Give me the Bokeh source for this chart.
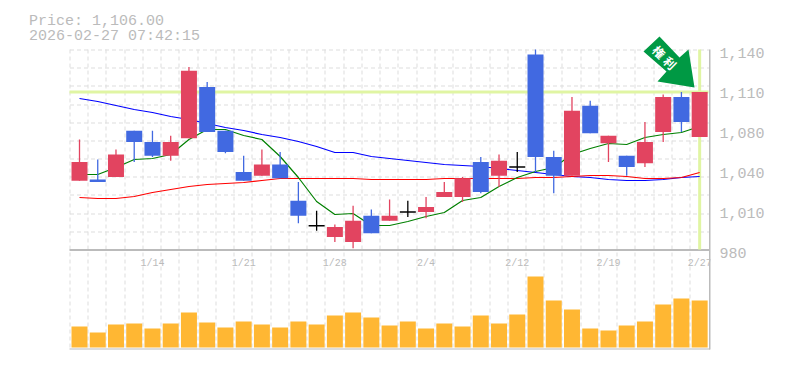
from bokeh.plotting import figure
from bokeh.embed import file_html
from bokeh.resources import INLINE
from bokeh.models import Range1d, LinearAxis, FixedTicker
from bokeh.core.properties import value

opens  = [1035,1036,1038,1075,1066,1055,1069,1110,1075,1042,1039,1048,1019,999,990,986,1007,1003,1010,1010,1022,1022,1050,1039,1046,1136,1054,1039,1095,1065,1055,1049,1074,1102,1070]
highs  = [1068,1052,1060,1075,1075,1071,1126,1114,1075,1055,1060,1058,1034,1011,1000,1015,1012,1020,1019,1022,1034,1038,1054,1056,1058,1140,1059,1102,1099,1071,1055,1082,1104,1106,1106]
lows   = [1035,1034,1038,1050,1054,1051,1069,1074,1057,1035,1039,1037,1001,995,986,981,993,1003,1006,1005,1022,1018,1025,1030,1042,1042,1025,1039,1073,1050,1039,1046,1066,1074,1070]
closes = [1050,1034,1056,1066,1055,1066,1123,1074,1058,1035,1048,1037,1007,999,998,1003,993,1007,1010,1014,1026,1037,1026,1051,1046,1054,1039,1091,1073,1071,1046,1066,1102,1082,1106]
ma_short = [1040,1040,1045.6,1052,1052.8,1056,1068,1076,1076,1071.2,1068,1054.4,1037.6,1018.4,1008,1008.8,999.2,999.2,1002.4,1006.4,1009.6,1019.2,1021.6,1030.4,1037.6,1042.4,1045.6,1056,1060.8,1064.8,1064,1069.6,1072,1073.6,1078.4]
ma_mid = [1100.8,1098.4,1095.2,1092,1089.6,1086.4,1084,1080.8,1077.6,1075.2,1072,1069.6,1066.4,1062.4,1057.6,1057.6,1054.4,1052.8,1051.2,1049.6,1048,1047.2,1046.4,1044.8,1043.2,1041.6,1040,1038.4,1037.6,1036,1035.2,1035.2,1036,1037.6,1038.4]
ma_long = [1021.6,1020.8,1020.8,1022.4,1025.6,1028,1030.4,1032,1032.8,1033.6,1035.2,1036.8,1036.8,1036.8,1036.8,1036.8,1036,1036,1036,1036,1036.8,1036.8,1036.8,1036.8,1036.8,1037.6,1037.6,1038.4,1039.2,1039.2,1038.4,1036.8,1036.8,1037.6,1041.6]
volumes = [21,15,23,24,19,24,35,25,20,26,23,20,26,23,32,35,30,22,26,19,24,21,32,24,33,71,47,38,19,17,22,26,43,49,47]
date_index = [4,9,14,19,24,29,34]
date_labels = ["1/14","1/21","1/28","2/4","2/12","2/19","2/27"]
tick_values = [1140,1108,1076,1044,1012,980]
tick_labels = ["1,140","1,110","1,080","1,040","1,010","980"]
last_price = 1106
title_lines = ["Price: 1,106.00","2026-02-27 07:42:15"]
arrow_text = ["権","利"]

UP, DOWN, DOJI = "#e24460", "#4169e1", "#000000"
GRID, FRAME, TXT = "#dddddd", "#bbbbbb", "#bbbbbb"
PALE, ARROW, VOL = "#e0f5a3", "#009944", "#ffb733"
n = len(opens)

# page pixel -> data helpers, used for the furniture only
SLOT = 18.24
px_x = lambda px: (px - 80) / SLOT
px_y = lambda py: 1140 - (py - 50) * 0.8

p = figure(frame_width=701, frame_height=348, output_backend="svg", toolbar_location=None,
           x_range=Range1d(px_x(10), px_x(711)), y_range=Range1d(px_y(350), px_y(2)),
           x_axis_location=None, y_axis_location=None,
           min_border_left=9, min_border_right=50, min_border_top=1, min_border_bottom=8,
           outline_line_color=None, background_fill_color="white", border_fill_color="white")
p.xgrid.visible = False
p.ygrid.visible = False
p.extra_y_ranges = {"vol": Range1d(-2, 346)}

axis = LinearAxis(ticker=FixedTicker(ticks=[t - 2.4 for t in tick_values]),
                  major_label_overrides={t - 2.4: l for t, l in zip(tick_values, tick_labels)},
                  major_tick_line_color=None, minor_tick_line_color=None, axis_line_color=None,
                  major_tick_in=0, major_tick_out=0, minor_tick_in=0, minor_tick_out=0,
                  major_label_standoff=9, major_label_text_font="Liberation Mono",
                  major_label_text_font_size="15px", major_label_text_color=TXT)
p.add_layout(axis, "right")

# grid
gx = [px_x(round(70 + i * SLOT) + 0.5) for i in range(n)]
p.segment(gx, px_y(50), gx, px_y(350), line_color=GRID, line_width=1, line_dash="4 3")
gy = [px_y(round(50 + i * 200 / 11) + 0.5) for i in range(11)]
p.segment(px_x(70.5), gy, px_x(710), gy, line_color=GRID, line_width=1, line_dash="4 3")
# frame lines
p.segment(px_x(70), [px_y(250.5), px_y(350)], px_x(710.5), [px_y(250.5), px_y(350)], line_color=FRAME, line_width=2)
p.segment(px_x(710.5), px_y(50), px_x(710.5), px_y(351), line_color=FRAME, line_width=2)

# last price guides
p.segment(px_x(70), last_price, px_x(709), last_price, line_color=PALE, line_width=3)
p.segment(n - 1, 1140, n - 1, 980, line_color=PALE, line_width=3)

xs = list(range(n))
p.line(xs, ma_mid, line_color="#0000ff", line_width=1.2)
p.line(xs, ma_long, line_color="#ff0000", line_width=1.2)
p.line(xs, ma_short, line_color="#008000", line_width=1.2)

colors = [UP if c > o else DOWN if c < o else DOJI for o, c in zip(opens, closes)]
p.segment(xs, lows, xs, highs, line_color=colors, line_width=1.3)
body = [i for i in xs if opens[i] != closes[i]]
p.vbar(body, width=16 / SLOT,
       bottom=[min(opens[i], closes[i]) for i in body], top=[max(opens[i], closes[i]) for i in body],
       fill_color=[colors[i] for i in body], line_color=None)
doji = [i for i in xs if opens[i] == closes[i]]
p.segment([i - 8 / SLOT for i in doji], [opens[i] for i in doji], [i + 8 / SLOT for i in doji],
          [opens[i] for i in doji], line_color=DOJI, line_width=1.3)

p.vbar(xs, width=16 / SLOT, bottom=0, top=volumes, fill_color=VOL, line_color=None, y_range_name="vol")

# arrow
ax = [660, 644, 667, 658, 695, 689, 680]
ay = [37, 52, 72, 82, 88, 50, 58]
p.patch([px_x(v) for v in ax], [px_y(v) for v in ay], fill_color=ARROW, line_color=None)
p.text([px_x(660), px_x(671)], [px_y(52), px_y(63)], text=arrow_text, angle=-0.785,
       text_color="white", text_font=value("Noto Sans CJK JP"), text_font_size="12px",
       text_font_style="bold", text_align="center", text_baseline="middle")

p.text([px_x(29.5)] * 2, [px_y(21.5), px_y(36.5)], text=title_lines, text_color=TXT,
       text_font=value("Liberation Mono"), text_font_size="15px", text_baseline="alphabetic")
p.text(date_index, [px_y(264)] * len(date_index), text=date_labels, text_color=TXT,
       text_font=value("Liberation Mono"), text_font_size="10px", text_align="center", text_baseline="middle")

open("out.html", "w").write(file_html(p, INLINE))
